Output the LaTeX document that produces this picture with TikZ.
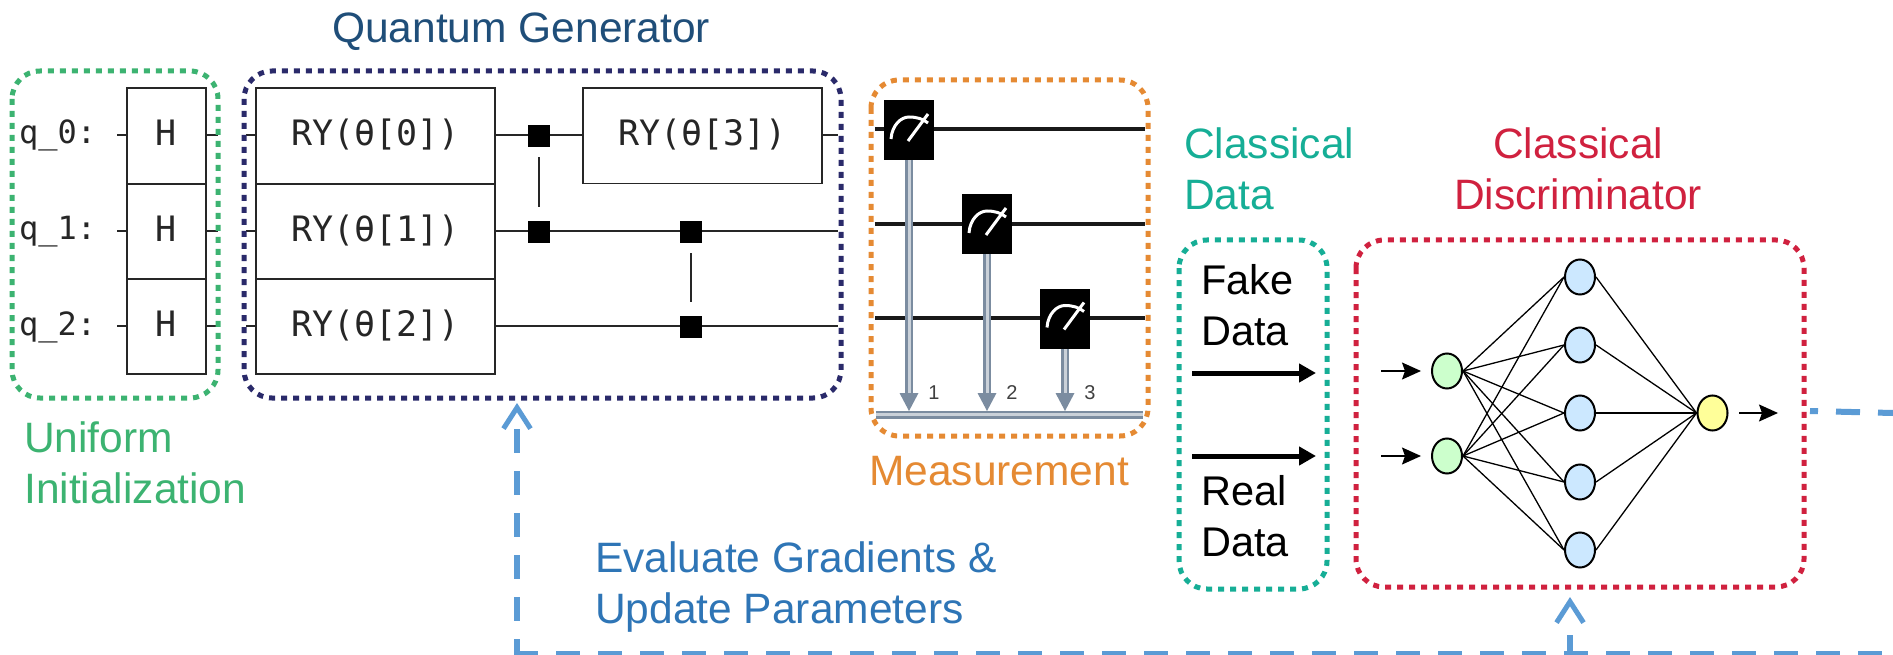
\documentclass[tikz,border=0pt]{standalone}
\usepackage{fontspec}
\setmainfont{Liberation Sans}
\newfontfamily\qfont{DejaVu Sans Mono}
\usetikzlibrary{arrows.meta,shapes.geometric}
\definecolor{cgreen}{HTML}{3CB371}
\definecolor{cnavy}{HTML}{2A2A6A}
\definecolor{corange}{HTML}{E58A33}
\definecolor{cteal}{HTML}{16AE96}
\definecolor{cred}{HTML}{D0213F}
\definecolor{ctitle}{HTML}{1F4E79}
\definecolor{cdash}{HTML}{5B9BD5}
\definecolor{ctext}{HTML}{2E75B6}
\definecolor{cbitc}{HTML}{7B8CA0}
\definecolor{nblue}{HTML}{CCE8FF}
\definecolor{ngreen}{HTML}{CCFFCC}
\definecolor{nyellow}{HTML}{FFFF99}
\tikzset{
 groupbox/.style={draw=#1,line width=5pt,dash pattern=on 6pt off 6pt,rounded corners=28pt},
 lab/.style={anchor=base west,inner sep=0pt,font=\fontsize{42.5}{46}\selectfont},
 blab/.style={anchor=base west,inner sep=0pt,font=\fontsize{41.5}{46}\selectfont,text=black},
 gate/.style={draw=black!85,line width=1.6pt,fill=white,inner sep=0pt,font=\qfont\fontsize{35}{38}\selectfont,text=black!85,text height=24pt,text depth=4pt},
 hgate/.style={gate,minimum width=79pt,minimum height=95.3pt},
 rygate/.style={gate,minimum width=239pt,minimum height=95.3pt},
 wire/.style={draw=black!85,line width=1.6pt},
 qlab/.style={anchor=west,inner sep=0pt,font=\qfont\fontsize{32}{38}\selectfont,text=black!85,text height=23pt,text depth=5pt},
 ctrl/.style={fill=black,inner sep=0pt,minimum width=22pt,minimum height=22pt},
 mbox/.style={fill=black,inner sep=0pt,minimum width=50pt,minimum height=60pt},
 mwire/.style={draw=black!90,line width=3.5pt},
 cbit/.style={draw=cbitc,line width=2.5pt,double=white!60!cbitc,double distance=3pt},
 bitnum/.style={inner sep=0pt,font=\fontsize{20}{22}\selectfont,text=black!75},
 nn/.style={ellipse,draw=black,line width=2pt,inner sep=0pt,minimum width=30pt,minimum height=35pt},
 nnedge/.style={draw=black,line width=1.3pt},
 small/.style={draw=black,line width=1.5pt,-{Stealth[length=19pt,width=17pt,inset=3pt]}},
 bigarrow/.style={draw=black,line width=5pt,-{Triangle[length=17pt,width=18pt]}},
 fb/.style={draw=cdash,line width=6pt,dash pattern=on 24pt off 18pt},
 fbtip/.style={draw=cdash,line width=6pt,{Straight Barb[length=21pt,width=27pt,line width=5pt]}-},
}
\begin{document}
\begin{tikzpicture}[x=1pt,y=-1pt]
\useasboundingbox (0,0) rectangle (1893,655);
\fill[white] (0,0) rectangle (1893,655);
% circuit wires
\foreach \y in {135,231,326}{
  \coordinate (wl\y) at (117,\y);
  \coordinate (wr\y) at (218,\y);
  \draw[wire] (wl\y) -- (wr\y);
}
\foreach \y in {135,231,326}{
  \coordinate (gl\y) at (246,\y);
  \coordinate (gr\y) at (838,\y);
  \draw[wire] (gl\y) -- (gr\y);
}
% H gates
\node[hgate] (h0) at (166.5,135.7) {H};
\node[hgate] (h1) at (166.5,231) {H};
\node[hgate] (h2) at (166.5,326.3) {H};
\node[qlab] (q0) at (19,135) {q\_0:};
\node[qlab] (q1) at (19,231) {q\_1:};
\node[qlab] (q2) at (19,326) {q\_2:};
% RY gates
\node[rygate] (ry0) at (375.5,135.7) {RY(θ[0])};
\node[rygate] (ry1) at (375.5,231) {RY(θ[1])};
\node[rygate] (ry2) at (375.5,326.3) {RY(θ[2])};
\node[rygate] (ry3) at (702.5,135.7) {RY(θ[3])};
\foreach \a in {h0,ry0,h1,ry1}{
  \draw[wire] (\a.south west) -- (\a.south east);
}
% controlled gates
\node[ctrl] (c0) at (539,136) {};
\node[ctrl] (c1) at (539,232) {};
\node[ctrl] (c2) at (691,232) {};
\node[ctrl] (c3) at (691,327) {};
\draw[wire] ([yshift=-10pt]c0.south) -- ([yshift=14pt]c1.north);
\draw[wire] ([yshift=-10pt]c2.south) -- ([yshift=14pt]c3.north);
% groups
\draw[groupbox=cgreen] (12,71) rectangle (218,398);
\draw[groupbox=cnavy] (244,71) rectangle (841,398);
% measurement
\coordinate (busl) at (876,414.5);
\coordinate (busr) at (1143,414.5);
\foreach \y in {129,224,318}{
  \coordinate (ml\y) at (875,\y);
  \coordinate (mr\y) at (1145,\y);
  \draw[mwire] (ml\y) -- (mr\y);
}
\draw[draw=cbitc,line width=2.5pt,double=white!60!cbitc,double distance=3pt] (busl) -- (busr);
\foreach \n/\x/\y/\k in {m1/909/130/1,m2/987/224/2,m3/1065/318.5/3}{
  \coordinate (\n bot) at (\x,396);
  \draw[cbit] (\x,\y) -- (\n bot);
  \fill[cbitc] (\x-9.5,393) -- (\x+9.5,393) -- (\x,411) -- cycle;
  \node[mbox] (\n) at (\x,\y) {};
  \draw[white,line width=3pt] (\x-18,\y+9) .. controls (\x-17,\y-5) and (\x-8,\y-13) .. (\x,\y-13) .. controls (\x+8,\y-13) and (\x+14,\y-11) .. (\x+19,\y-7);
  \draw[white,line width=3pt] (\x+19,\y-16) -- (\x-1,\y+11);
  \node[bitnum] (n\k) at (\x+25,393) {\k};
}
\draw[groupbox=corange] (871,80) rectangle (1148,436);
% classical data
\draw[groupbox=cteal] (1179,240) rectangle (1327,589);
\node[blab] (fake) at (1201,294) {Fake};
\node[blab] (fd) at (1201,345.5) {Data};
\node[blab] (real) at (1201,505) {Real};
\node[blab] (rd) at (1201,556) {Data};
\coordinate (fa) at (1192,373); \coordinate (fb1) at (1316,373);
\coordinate (ra) at (1192,456); \coordinate (rb1) at (1316,456);
\draw[bigarrow] (fa) -- (fb1);
\draw[bigarrow] (ra) -- (rb1);
% discriminator
\draw[groupbox=cred] (1356,240) rectangle (1804,587);
\node[nn,fill=ngreen] (i1) at (1447,371) {};
\node[nn,fill=ngreen] (i2) at (1447,456) {};
\foreach \k/\y in {1/277,2/345,3/413,4/482,5/550}{
  \node[nn,fill=nblue] (d\k) at (1580,\y) {};
}
\node[nn,fill=nyellow] (o) at (1712.5,413) {};
\foreach \k in {1,...,5}{
  \draw[nnedge] (i1.east) -- (d\k.west);
  \draw[nnedge] (i2.east) -- (d\k.west);
  \draw[nnedge] (d\k.east) -- (o.west);
}
\coordinate (ia1) at (1381,371); \coordinate (ia2) at (1381,456);
\coordinate (oa) at (1778,413); \coordinate (ob) at (1739,413);
\draw[small] (ia1) -- ([xshift=-10pt]i1.west);
\draw[small] (ia2) -- ([xshift=-10pt]i2.west);
\draw[small] (ob) -- (oa);
% feedback
\coordinate (t1) at (517,403);
\coordinate (t2) at (1570,597);
\coordinate (b1) at (517,654);
\coordinate (b2) at (1570,654);
\coordinate (be) at (1893,654);
\coordinate (os) at (1810,411);
\coordinate (oe) at (1893,413);
\draw[fb,dash phase=16pt] (os) -- (oe);
\draw[fbtip,dash pattern=on 24pt off 18pt,dash phase=23pt] (t1) -- (b1);
\draw[fb] ([xshift=-3pt]b1) -- (be);
\draw[fbtip,dash pattern=on 26pt off 31pt,dash phase=26pt] (t2) -- (b2);
% labels
\node[lab,text=ctitle] (tq) at (332,43) {Quantum Generator};
\node[lab,text=cgreen] (tu) at (24,452) {Uniform};
\node[lab,text=cgreen] (ti) at (24,503) {Initialization};
\node[lab,text=corange] (tm) at (869,485) {Measurement};
\node[lab,text=cteal] (tc) at (1184,159) {Classical};
\node[lab,text=cteal] (td) at (1184,210) {Data};
\node[lab,text=cred] (tcc) at (1493,159) {Classical};
\node[lab,text=cred] (tdd) at (1454,210) {Discriminator};
\node[lab,text=ctext] (te) at (595,572) {Evaluate Gradients \&};
\node[lab,text=ctext] (tup) at (595,623) {Update Parameters};
\end{tikzpicture}
\end{document}
